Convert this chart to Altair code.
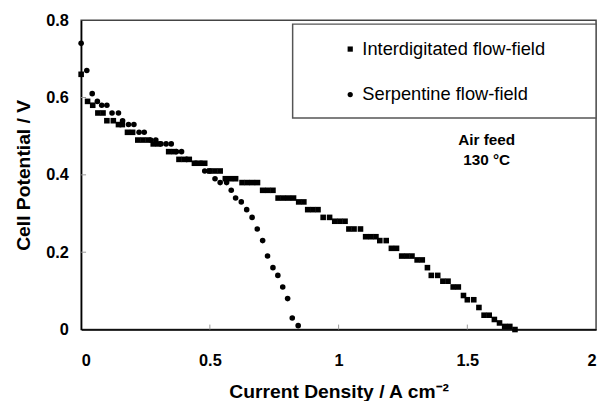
import altair as alt
import pandas as pd

# Interdigitated flow-field (squares)
inter_x = [0.0, 0.025, 0.045, 0.065, 0.085, 0.10, 0.125, 0.145, 0.16, 0.18, 0.20,
           0.22, 0.24, 0.26, 0.28, 0.30, 0.34, 0.36, 0.38, 0.40, 0.42, 0.44, 0.46, 0.48,
           0.50, 0.52, 0.54, 0.56, 0.58, 0.60, 0.625, 0.645, 0.665, 0.685,
           0.705, 0.725, 0.745, 0.765, 0.785, 0.805, 0.825, 0.845, 0.865,
           0.88, 0.90, 0.92, 0.94, 0.965, 0.985, 1.005, 1.025, 1.04, 1.06, 1.085,
           1.105, 1.125, 1.145, 1.16, 1.185, 1.205, 1.225, 1.245, 1.265, 1.285,
           1.305, 1.325, 1.345, 1.36, 1.385, 1.405, 1.425, 1.445, 1.465, 1.485,
           1.50, 1.525, 1.545, 1.565, 1.585, 1.605, 1.625, 1.645, 1.665, 1.685]
inter_v = [0.66, 0.59, 0.58, 0.56, 0.56, 0.54, 0.54, 0.53, 0.53, 0.51, 0.51,
           0.49, 0.49, 0.49, 0.48, 0.48, 0.46, 0.46, 0.44, 0.44, 0.44, 0.43, 0.43, 0.43,
           0.41, 0.41, 0.41, 0.39, 0.39, 0.39, 0.38, 0.38, 0.38, 0.38,
           0.36, 0.36, 0.36, 0.34, 0.34, 0.34, 0.34, 0.33, 0.33,
           0.31, 0.31, 0.31, 0.29, 0.29, 0.28, 0.28, 0.28, 0.26, 0.26, 0.26,
           0.24, 0.24, 0.24, 0.23, 0.23, 0.21, 0.21, 0.19, 0.19, 0.19,
           0.18, 0.18, 0.16, 0.14, 0.14, 0.125, 0.125, 0.11, 0.11, 0.088,
           0.077, 0.077, 0.057, 0.037, 0.037, 0.026, 0.017, 0.008, 0.008, 0.0]

# Serpentine flow-field (circles)
serp_x = [0.0, 0.022, 0.043, 0.063, 0.08, 0.10, 0.12, 0.145, 0.161, 0.184, 0.205,
          0.225, 0.245, 0.27, 0.29, 0.31, 0.33, 0.35, 0.37, 0.39, 0.41, 0.445, 0.465,
          0.48, 0.50, 0.52, 0.54, 0.565, 0.583, 0.60, 0.622, 0.643, 0.664, 0.684,
          0.705, 0.724, 0.745, 0.764, 0.783, 0.802, 0.82, 0.843]
serp_v = [0.74, 0.67, 0.61, 0.59, 0.58, 0.58, 0.56, 0.56, 0.54, 0.53, 0.53,
          0.51, 0.51, 0.49, 0.49, 0.48, 0.48, 0.48, 0.46, 0.46, 0.44, 0.43, 0.43,
          0.41, 0.41, 0.39, 0.38, 0.38, 0.36, 0.34, 0.33, 0.31, 0.29, 0.26,
          0.23, 0.19, 0.16, 0.14, 0.11, 0.08, 0.03, 0.01]

series_names = ["Interdigitated flow-field", "Serpentine flow-field"]
x_ticks = [0, 0.5, 1, 1.5, 2]
y_ticks = [0, 0.2, 0.4, 0.6, 0.8]
inner_x_ticks = [0.5, 1, 1.5]
inner_y_ticks = [0.2, 0.4, 0.6]
note_lines = ["Air feed", "130 °C"]
note_x = [1.575, 1.575]
note_y = [0.49, 0.437]

W, H = 521, 313
FONT = "Liberation Sans"

df = pd.concat([
    pd.DataFrame({"x": inter_x, "v": inter_v, "series": series_names[0]}),
    pd.DataFrame({"x": serp_x, "v": serp_v, "series": series_names[1]}),
])

xs = alt.Scale(domain=[0, 2], nice=False, zero=False)
ys = alt.Scale(domain=[0, 0.8], nice=False, zero=False)

x_axis = alt.Axis(values=x_ticks, format=".1~f", title="Current Density / A cm⁻²",
                  labelPadding=23, titlePadding=14)
y_axis = alt.Axis(values=y_ticks, format=".1~f", title="Cell Potential / V",
                  labelPadding=13, titlePadding=12)

X = lambda f: alt.X(f"{f}:Q", scale=xs, axis=x_axis)
Y = lambda f: alt.Y(f"{f}:Q", scale=ys, axis=y_axis)

legend_box = alt.Chart(pd.DataFrame({"a": [0]})).mark_rect(
    fill="white", stroke="#555", strokeWidth=1.5
).encode(x=alt.value(214), x2=alt.value(W), y=alt.value(4), y2=alt.value(99))

points = alt.Chart(df).mark_point(filled=True, opacity=1, color="black", size=32).encode(
    x=X("x"),
    y=Y("v"),
    shape=alt.Shape("series:N", scale=alt.Scale(domain=series_names, range=["square", "circle"]),
                    legend=alt.Legend(title=None, orient="none", legendX=263, legendY=20,
                                      labelFontSize=18.5, labelFont=FONT, labelColor="black",
                                      labelFontWeight="normal", labelLimit=400,
                                      symbolSize=28, labelOffset=3, rowPadding=27,
                                      padding=0, symbolFillColor="black",
                                      symbolStrokeColor="black", symbolStrokeWidth=0)),
)

ytick_layer = alt.Chart(pd.DataFrame({"v": inner_y_ticks})).mark_rule(color="#999", strokeWidth=1).encode(
    y=Y("v"), x=alt.value(0), x2=alt.value(5))
xtick_layer = alt.Chart(pd.DataFrame({"x": inner_x_ticks})).mark_rule(color="#999", strokeWidth=1).encode(
    x=X("x"), y=alt.value(H), y2=alt.value(H - 5))

note = alt.Chart(pd.DataFrame({"x": note_x, "v": note_y, "t": note_lines})).mark_text(
    font=FONT, fontSize=15.5, fontWeight="bold", color="black"
).encode(x=X("x"), y=Y("v"), text="t:N")

chart = alt.layer(legend_box, ytick_layer, xtick_layer, points, note).properties(
    width=W, height=H,
    autosize=alt.AutoSizeParams(type="none"),
    padding={"left": 74, "top": 10, "right": 6, "bottom": 70},
).configure_view(stroke="#444", strokeWidth=1.5).configure_axis(
    domainColor="black", domainWidth=1.5, ticks=False, grid=False,
    labelFont=FONT, labelFontSize=16.5, labelFontWeight="bold", labelColor="black",
    titleFont=FONT, titleFontSize=19.5, titleFontWeight="bold", titleColor="black",
)

chart.save("out.html", embed_options={"renderer": "svg", "actions": False})
